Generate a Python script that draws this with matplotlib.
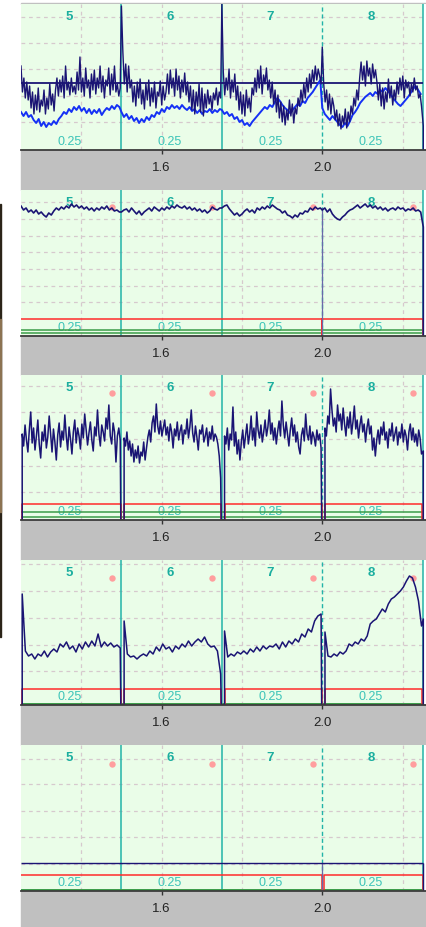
import numpy as np
import matplotlib
matplotlib.use("Agg")
import matplotlib.pyplot as plt
from matplotlib.patches import Rectangle

plt.rcParams['font.family'] = ['Liberation Sans', 'DejaVu Sans']

# ------------------------------------------------------------------ data
seg_starts = [1.25, 1.5, 1.75, 2.0]
seg_len = 0.25
seg_names = ["5", "6", "7", "8"]
seg_dur_label = "0.25"
xticks = [1.6, 2.0]
xticklabels = ["1.6", "2.0"]
xgrid = [1.4, 1.6, 1.8, 2.2]

# panel 1 : two noisy traces + reference level
p1_navy = [
    [84, 58, 72, 52, 68, 50,
     64, 42, 58, 36, 55, 40, 62, 38, 50, 44, 60, 36, 52, 41, 66, 45, 56, 39,
     60, 72, 54, 70, 58, 74, 52, 84, 60, 68, 55, 72, 58, 64,
     56, 78, 60, 93, 58, 72, 54, 82, 62, 70, 52, 76,
     60, 80, 56, 72, 62, 84, 58, 74, 52, 70, 64, 82, 55, 76, 60, 84, 58, 66, 54, 62],
    [144, 98, 66, 86, 58, 84, 62,
     70, 48, 64, 44, 68, 52, 71, 46, 60, 41, 66, 50, 70, 44, 62, 48, 68, 42, 58, 54, 69, 45, 64, 50,
     58, 76, 56, 80, 62, 72, 54, 81, 60, 74, 52, 70, 58, 77, 55, 68,
     48, 64, 40, 60, 36, 58, 44, 66, 38, 62, 34, 56, 42, 60, 46, 54, 40, 57, 50, 62, 45, 58, 52],
    [146, 78, 55, 72, 60, 81, 52, 70, 58, 76,
     50, 64, 40, 58, 36, 55, 34, 60, 42, 52, 38, 62,
     55, 72, 58, 80, 62, 84, 56, 75, 66, 82, 60, 70, 52, 68,
     46, 60, 38, 55, 32, 48, 28, 44, 25, 40, 30, 50, 34, 46, 27, 42, 36, 52,
     44, 60, 48, 66, 52, 72, 58, 76, 62, 80, 68, 84, 70, 81, 74, 66],
    [103, 66, 48, 60, 40, 56, 36, 52, 44,
     30, 40, 24, 36, 21, 34, 26, 41, 22, 38, 28, 44,
     36, 52, 44, 60, 50,
     72, 88, 70, 84, 64, 89, 74, 82, 66, 86, 72, 80, 68,
     50, 66, 44, 62, 41, 58, 48, 71, 52, 64, 45, 60, 50, 68,
     56, 72, 60, 74, 52, 70, 62, 68, 54, 66, 58, 72, 60, 64, 52, 56, 44],
]
p1_navy_tail = [24, 0]
p1_blue = [
    [38, 34, 38, 33, 35, 30, 27, 31, 24, 28, 23, 27, 25, 29, 26, 31, 34, 38, 36, 41, 38, 43, 40, 44, 39, 42, 37, 41, 36, 40, 37, 41, 35, 39, 42, 40, 44, 41, 45, 43],
    [38, 33, 36, 31, 34, 29, 32, 27, 31, 28, 33, 30, 35, 33, 38, 36, 41, 38, 43, 41, 45, 42, 44, 41, 45, 42, 40, 43, 39, 41, 37, 40, 36, 39, 38, 41, 37, 40, 38, 41],
    [40, 36, 38, 34, 36, 31, 33, 28, 30, 25, 27, 24, 28, 31, 34, 37, 40, 43, 41, 45, 43, 48, 52, 49, 45, 42, 40, 37, 40, 43, 46, 44, 49, 47, 52, 55, 58, 62, 66, 70],
    [42, 36, 33, 30, 34, 31, 28, 25, 23, 27, 24, 29, 35, 38, 42, 47, 50, 53, 55, 57, 54, 58, 56, 60, 58, 62, 59, 56, 52, 49, 46, 44, 47, 50, 53, 57, 61, 64, 60, 56],
]
p1_blue_tail = []
p1_ref_level = 66.7

# panel 2 : trace near the top
p2_trace = [
    [130, 126, 128, 124, 126, 123, 126, 122, 124, 121, 119, 123, 121, 125, 128, 126, 129, 127, 130, 128, 132, 129, 131, 128, 130, 127, 129, 126, 128, 125, 128, 126, 129, 127, 130, 126, 128, 125, 126, 124],
    [124, 126, 127, 124, 128, 125, 122, 125, 121, 124, 126, 128, 125, 129, 127, 125, 128, 126, 129, 127, 130, 128, 131, 129, 128, 130, 127, 129, 126, 128, 125, 127, 124, 126, 123, 125, 129, 127, 126, 128],
    [128, 130, 131, 127, 124, 121, 123, 120, 122, 125, 127, 124, 126, 123, 128, 126, 129, 127, 130, 128, 131, 129, 127, 126, 123, 125, 121, 120, 118, 121, 119, 123, 122, 125, 124, 128, 126, 129, 127, 128],
    [126, 128, 124, 127, 122, 119, 117, 116, 119, 121, 124, 126, 127, 129, 131, 128, 130, 132, 129, 131, 128, 130, 127, 129, 126, 128, 125, 127, 128, 126, 129, 127, 128, 125, 127, 126, 128, 125, 126, 124],
]
p2_tail = [109, 0]

# panel 3 : noisy trace, gated per segment
p3_trace = [
    [86, 74, 95, 80, 68, 90, 108, 77, 92, 70, 84, 100, 76, 62, 88, 79, 95, 72, 83, 104, 86, 68, 91, 78, 60, 85, 97, 73, 89, 80, 105, 84, 70, 93, 81, 66, 88, 100, 77, 92, 84, 71, 96, 82, 106, 90, 75, 87, 98, 80, 69, 93, 84, 110, 86, 74, 95, 88, 79, 102, 91, 115, 84, 76, 97, 88, 58, 84, 92, 80],
    [82, 74, 88, 70, 79, 64, 76, 58, 70, 62, 74, 57, 68, 64, 78, 60, 72, 83, 90, 78, 97, 104, 88, 116, 94, 86, 99, 84, 92, 100, 85, 93, 79, 96, 88, 72, 91, 84, 98, 80, 89, 95, 76, 90, 86, 101, 82, 93, 110, 87, 78, 94, 83, 70, 90, 86, 95, 78, 84, 92, 74, 88, 81, 94, 79, 86, 83, 76, 64, 42],
    [84, 76, 92, 70, 86, 80, 113, 74, 88, 66, 80, 60, 78, 90, 72, 84, 96, 76, 86, 104, 80, 92, 74, 108, 90, 82, 95, 78, 88, 100, 84, 93, 110, 86, 97, 80, 92, 76, 89, 99, 84, 119, 95, 82, 98, 86, 74, 90, 102, 84, 95, 78, 88, 73, 66, 85, 92, 79, 106, 86, 80, 94, 76, 88, 83, 74, 90, 80, 86, 72],
    [92, 84, 104, 96, 131, 110, 94, 102, 88, 115, 99, 106, 90, 112, 96, 84, 103, 92, 108, 86, 98, 114, 91, 100, 82, 95, 104, 88, 96, 78, 92, 101, 86, 94, 70, 82, 64, 80, 90, 76, 93, 85, 98, 80, 88, 72, 91, 84, 97, 79, 86, 93, 75, 88, 82, 96, 78, 90, 84, 70, 88, 96, 80, 92, 78, 86, 74, 90, 82, 66],
]
p3_tail = [69, 0]

# panel 4 : trace with ramps
p4_trace = [
    [111, 54, 49, 51, 46, 51, 49, 54, 48, 53, 56, 53, 61, 58, 63, 56, 59, 53, 61, 56, 63, 58, 64, 59, 71, 58, 63, 59, 62, 58, 60, 57],
    [84, 51, 48, 49, 46, 49, 51, 49, 54, 51, 58, 54, 61, 56, 58, 53, 59, 56, 61, 58, 64, 59, 63, 66, 63, 68, 61, 58, 59, 54, 31],
    [74, 48, 51, 49, 53, 51, 54, 51, 56, 53, 58, 54, 59, 56, 59, 58, 61, 56, 63, 58, 64, 61, 66, 63, 71, 68, 76, 73, 84, 89, 91],
    [73, 49, 48, 51, 49, 53, 51, 54, 61, 59, 63, 61, 66, 64, 69, 81, 84, 86, 91, 96, 93, 101, 106, 108, 111, 114, 118, 124, 129, 127, 118, 104, 79],
]
p4_tail = [86, 0]

# panel 5 : only the level line
p5_level = 27.7

# gate (red) / guide (green) levels per panel
gate_level = {2: 17.0, 3: 16.0, 4: 16.0, 5: 16.0}
green_levels = {2: [6.3, 3.0], 3: [7.7, 2.7], 4: [1.5], 5: [1.5]}
dot_level = {2: 129, 3: 127, 4: 127, 5: 127}
hgrid = {
    1: [133, 107, 81, 54, 28],
    2: [133.7, 117, 100.3, 83.7, 67, 50.3, 33.7],
    3: [134.3, 107.7, 81, 54.3, 27.7],
    4: [141, 114, 87, 60, 34],
    5: [132, 107, 80.3, 53.7, 27],
}

# ------------------------------------------------------------------ layout / style
W, H, DPI = 426, 928, 100
LEFT = 21
tops = [5, 191, 376, 561, 746]
bottoms = [151, 337, 521, 706, 892]
X0 = 1.25
PX_PER_UNIT = 401.7
XHI = X0 + (W - LEFT) / PX_PER_UNIT
X_END = 2.25
TAIL_X = 2.2515

GREEN_BG = '#eafde8'
GRAY = '#c0c0c0'
TEAL = '#22b3a8'
TEAL_TXT = '#1aae9f'
GRID = '#d6c9cd'
NAVY = '#1a1474'
BLUE = '#1430f5'
RED = '#ff2a2a'
GRN = '#3a9c48'
DOT = '#ff9e9e'
LAV = '#6a68aa'

fig = plt.figure(figsize=(W / DPI, H / DPI), dpi=DPI, facecolor='white')

# gray strips between panels & top hairline
fig.add_artist(Rectangle((LEFT / W, 1 - 5 / H), (W - LEFT) / W, 1.2 / H,
                         transform=fig.transFigure, color=GRAY, zorder=-1))
nxt = tops[1:] + [H]
for b, t in zip(bottoms, nxt):
    fig.add_artist(Rectangle((LEFT / W, 1 - t / H), (W - LEFT) / W, (t - b) / H,
                             transform=fig.transFigure, color=GRAY, zorder=-1))
# dark strip at the far left edge
fig.add_artist(Rectangle((0, 1 - 638 / H), 1.4 / W, (638 - 205) / H,
                         transform=fig.transFigure, color='#2b2418', zorder=-1))
fig.add_artist(Rectangle((0, 1 - 513 / H), 1.4 / W, (513 - 320) / H,
                         transform=fig.transFigure, color='#8c7352', zorder=-1))


def build_trace(segs, gaps, pre, end_pad, tail):
    xs, ys = [], []
    for i, (s, vals) in enumerate(zip(seg_starts, segs)):
        g = gaps[i]
        x0 = s
        if g is not None:
            xs += [s - pre, s + g]
            ys += [0, 0]
            x0 = s + g
        xs += list(np.linspace(x0, s + seg_len - end_pad, len(vals)))
        ys += list(vals)
    xs += [TAIL_X] * len(tail)
    ys += list(tail)
    return xs, ys


def build_gate(level, gaps, pre, x_end):
    xs, ys = [], []
    for s, g in zip(seg_starts, gaps):
        if g is None:
            if not xs:
                xs.append(s)
                ys.append(level)
        else:
            if not xs:
                xs += [s - pre, s + g, s + g]
                ys += [0, 0, level]
            else:
                xs += [s - pre, s - pre, s + g, s + g]
                ys += [level, 0, 0, level]
    xs += [x_end, x_end]
    ys += [level, 0]
    return xs, ys


axes = []
for k, (t, b) in enumerate(zip(tops, bottoms), start=1):
    hp = b - t
    ax = fig.add_axes([LEFT / W, 1 - b / H, (W - LEFT) / W, hp / H])
    ax.set_xlim(X0, XHI)
    ax.set_ylim(0, hp)
    ax.set_facecolor(GREEN_BG)
    for sp in ['top', 'right', 'left']:
        ax.spines[sp].set_visible(False)
    ax.spines['bottom'].set_color('#3c3c3c')
    ax.spines['bottom'].set_linewidth(1.3)
    ax.spines['bottom'].set_zorder(6)
    ax.set_yticks([])
    ax.set_xticks(xticks, xticklabels)
    ax.tick_params(axis='x', length=3.2, width=1.0, color='#333333', pad=4.5,
                   labelsize=9.5, labelcolor='#222222')
    # white strip right of the last boundary
    ax.axvspan(X_END + 0.0012, XHI, color='white', zorder=0.5, lw=0)
    # grid
    ax.vlines(xgrid, 0, hp, colors=GRID, linestyles=(0, (3, 3)), lw=0.9, zorder=1)
    ax.hlines(hgrid[k], X0, X_END, colors=GRID, linestyles=(0, (3, 3)), lw=0.9, zorder=1)
    # segment boundaries
    bnds = seg_starts[1:] + [X_END]
    for xb in bnds:
        if abs(xb - 2.0) < 1e-9:
            ax.vlines(xb, 0, hp, colors=TEAL, linestyles=(0, (3, 2)), lw=1.0, zorder=1.5)
        else:
            ax.vlines(xb, 0, hp, colors=TEAL, lw=1.1, zorder=1.5)
    # labels
    for s, nm in zip(seg_starts, seg_names):
        xc = s + seg_len / 2 - 0.004
        ax.text(xc, hp - 12, nm, color=TEAL_TXT, fontsize=9.5, fontweight='bold',
                ha='center', va='center', zorder=2)
        ax.text(xc, 9.2, seg_dur_label, color='#3cc4b8', fontsize=9,
                ha='center', va='center', zorder=2)
    if k in dot_level:
        ax.plot([s + 0.2265 for s in seg_starts], [dot_level[k]] * 4, 'o', ms=4.6,
                color=DOT, mec='none', zorder=2.2)
    axes.append(ax)

# ---- panel 1
ax = axes[0]
ax.hlines(p1_ref_level, X0, X_END, colors=NAVY, lw=1.3, zorder=3.5)
xs, ys = build_trace(p1_blue, [None] * 4, 0, 0.005, p1_blue_tail)
ax.plot(xs, ys, color=BLUE, lw=1.4, zorder=3.8)
xs, ys = build_trace(p1_navy, [None] * 4, 0, 0.003, p1_navy_tail)
ax.plot(xs, ys, color=NAVY, lw=1.0, zorder=4)

# ---- panel 2
ax = axes[1]
for lv in green_levels[2]:
    ax.hlines(lv, X0, X_END, colors=GRN, lw=1.1, zorder=3)
gx, gy = build_gate(gate_level[2], [None, None, None, 0.0], 0.0, TAIL_X)
ax.plot(gx, gy, color=RED, lw=1.1, zorder=3.2)
ax.vlines(seg_starts[3], 0, p2_trace[2][-1], colors=LAV, lw=0.9, zorder=3.4)
xs, ys = build_trace(p2_trace, [None] * 4, 0.0, 0.005, p2_tail)
ax.plot(xs, ys, color=NAVY, lw=1.2, zorder=4)

# ---- panel 3
ax = axes[2]
gaps3 = [0.003, 0.0067, 0.0067, 0.0067]
for lv in green_levels[3]:
    ax.hlines(lv, X0, X_END, colors=GRN, lw=1.1, zorder=3)
gx, gy = build_gate(gate_level[3], gaps3, 0.0015, X_END - 0.0005)
ax.plot(gx, gy, color=RED, lw=1.1, zorder=3.2)
xs, ys = build_trace(p3_trace, gaps3, 0.0015, 0.003, p3_tail)
ax.plot(xs, ys, color=NAVY, lw=1.1, zorder=4)

# ---- panel 4
ax = axes[3]
gaps4 = [0.003, 0.0067, 0.0067, 0.0067]
for lv in green_levels[4]:
    ax.hlines(lv, X0, X_END, colors=GRN, lw=1.4, zorder=3)
gx, gy = build_gate(gate_level[4], gaps4, 0.0015, X_END - 0.0005)
ax.plot(gx, gy, color=RED, lw=1.1, zorder=3.2)
xs, ys = build_trace(p4_trace, gaps4, 0.0015, 0.003, p4_tail)
ax.plot(xs, ys, color=NAVY, lw=1.1, zorder=4)

# ---- panel 5
ax = axes[4]
for lv in green_levels[5]:
    ax.hlines(lv, X0, X_END, colors=GRN, lw=1.4, zorder=3)
gx, gy = build_gate(gate_level[5], [None, None, None, 0.004], 0.0, TAIL_X)
ax.plot(gx, gy, color=RED, lw=1.1, zorder=3.2)
ax.hlines(p5_level, X0, TAIL_X, colors=NAVY, lw=1.0, zorder=4)
ax.vlines(seg_starts[3], 0, p5_level, colors=LAV, lw=0.9, zorder=3.4)
ax.vlines(TAIL_X, 0, p5_level, colors=NAVY, lw=1.0, zorder=4)

fig.savefig('out.png', dpi=DPI, facecolor='white')
